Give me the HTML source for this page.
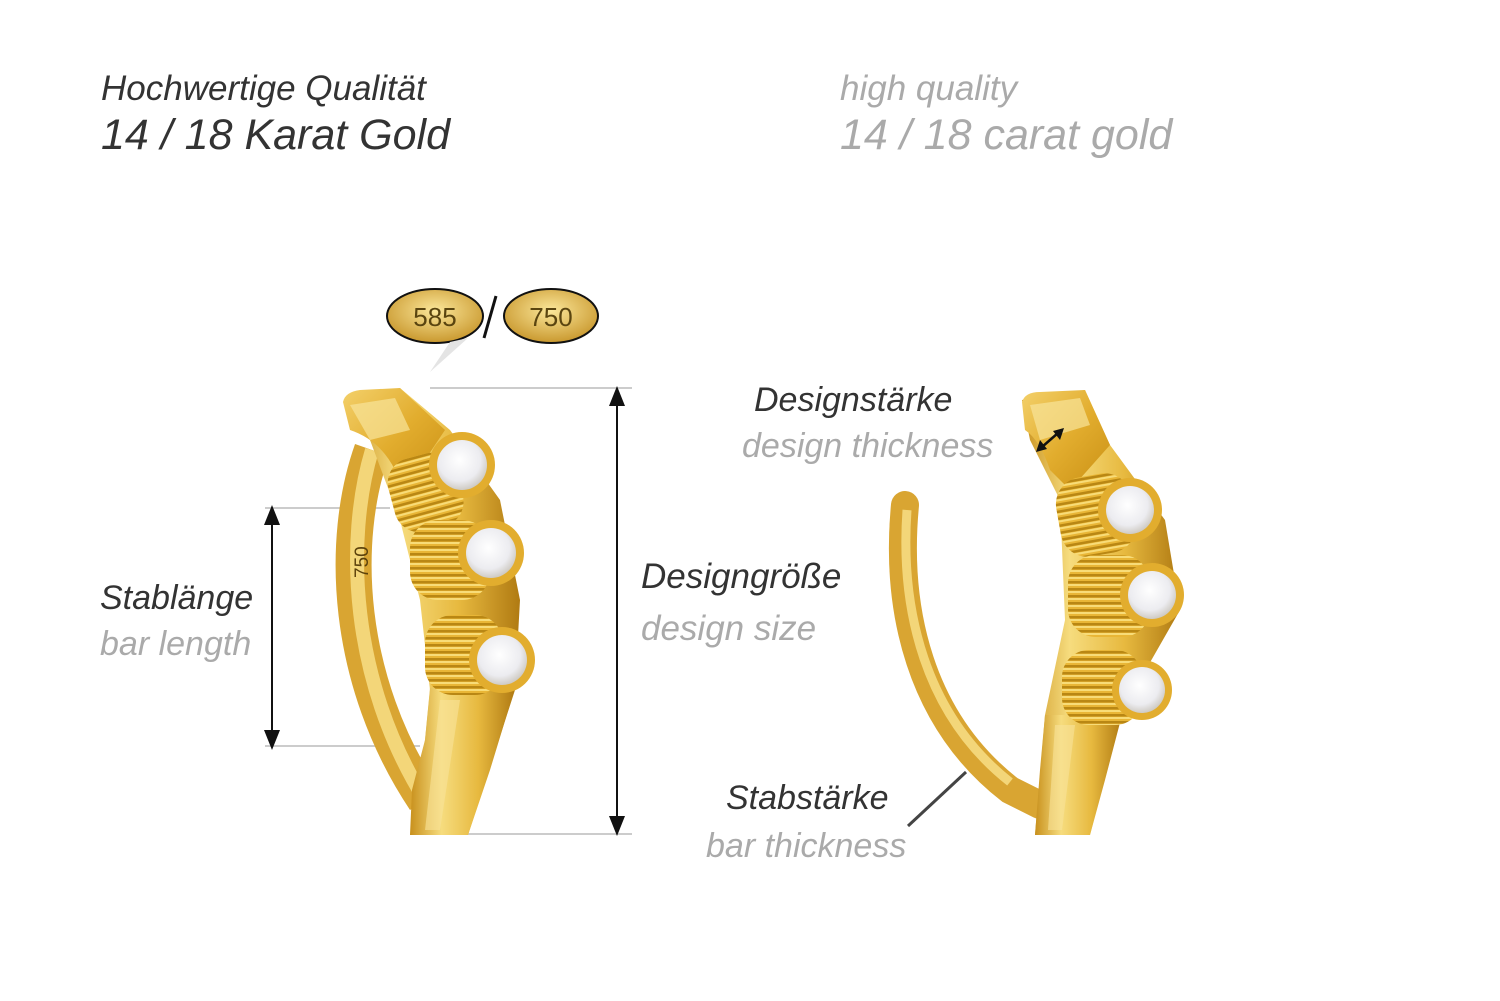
<!DOCTYPE html>
<html><head><meta charset="utf-8"><style>
html,body{margin:0;padding:0;background:#fff;}
body{width:1500px;height:1001px;position:relative;overflow:hidden;font-family:"Liberation Sans",sans-serif;font-style:italic;}
.t{position:absolute;white-space:nowrap;}
.d{color:#333;}
.g{color:#aaa;}
</style></head><body>
<div class="t d" style="left:101px;top:69px;font-size:35px;">Hochwertige Qualität</div>
<div class="t d" style="left:101px;top:111px;font-size:43px;">14 / 18 Karat Gold</div>
<div class="t g" style="left:840px;top:69px;font-size:35px;">high quality</div>
<div class="t g" style="left:840px;top:111px;font-size:43px;">14 / 18 carat gold</div>

<div class="t d" style="left:100px;top:579px;font-size:34px;">Stablänge</div>
<div class="t g" style="left:100px;top:625px;font-size:34px;">bar length</div>
<div class="t d" style="left:641px;top:557px;font-size:35px;">Designgröße</div>
<div class="t g" style="left:641px;top:609px;font-size:35px;">design size</div>
<div class="t d" style="left:754px;top:381px;font-size:34px;">Designstärke</div>
<div class="t g" style="left:742px;top:427px;font-size:34px;">design thickness</div>
<div class="t d" style="left:726px;top:779px;font-size:34px;">Stabstärke</div>
<div class="t g" style="left:706px;top:827px;font-size:34px;">bar thickness</div>

<svg width="1500" height="1001" style="position:absolute;left:0;top:0" xmlns="http://www.w3.org/2000/svg">
<defs>
<linearGradient id="gold" x1="0" y1="0" x2="1" y2="0">
<stop offset="0" stop-color="#c8901c"/><stop offset="0.3" stop-color="#f6dc7e"/><stop offset="0.65" stop-color="#e7b93f"/><stop offset="1" stop-color="#b07a12"/></linearGradient>
<linearGradient id="gold2" x1="0" y1="0" x2="1" y2="1">
<stop offset="0" stop-color="#f3d06a"/><stop offset="0.5" stop-color="#e2ad2e"/><stop offset="1" stop-color="#c98f14"/></linearGradient>
<radialGradient id="ov" cx="0.5" cy="0.4" r="0.6"><stop offset="0" stop-color="#fbe79a"/><stop offset="1" stop-color="#c9982e"/></radialGradient>
<radialGradient id="st" cx="0.45" cy="0.4" r="0.6"><stop offset="0" stop-color="#ffffff"/><stop offset="0.7" stop-color="#ececf0"/><stop offset="1" stop-color="#cfcbc4"/></radialGradient>
<pattern id="flute" width="7" height="7" patternUnits="userSpaceOnUse"><rect width="7" height="7" fill="#e9b636"/><rect y="0" width="7" height="2.5" fill="#b98714"/><rect y="3" width="7" height="2" fill="#f8dc78"/></pattern>
<marker id="ar" markerWidth="10" markerHeight="10" refX="5" refY="5" orient="auto-start-reverse"><path d="M0,1 L10,5 L0,9 Z" fill="#111"/></marker>
</defs>
<ellipse cx="435" cy="316" rx="48" ry="27" fill="url(#ov)" stroke="#111" stroke-width="2"/>
<text x="435" y="326" font-size="26" text-anchor="middle" fill="#5a4510" font-family="Liberation Sans" font-style="normal">585</text>
<ellipse cx="551" cy="316" rx="47" ry="27" fill="url(#ov)" stroke="#111" stroke-width="2"/>
<text x="551" y="326" font-size="26" text-anchor="middle" fill="#5a4510" font-family="Liberation Sans" font-style="normal">750</text>
<line x1="496" y1="296" x2="484" y2="338" stroke="#111" stroke-width="3"/>
<path d="M450,342 L430,372 L468,338 Z" fill="#e4e4e4"/>
<line x1="430" y1="388" x2="632" y2="388" stroke="#ccc" stroke-width="2"/>
<line x1="430" y1="834" x2="632" y2="834" stroke="#ccc" stroke-width="2"/>
<line x1="617" y1="396" x2="617" y2="826" stroke="#111" stroke-width="2" marker-start="url(#ar)" marker-end="url(#ar)"/>
<line x1="265" y1="508" x2="390" y2="508" stroke="#ccc" stroke-width="2"/>
<line x1="265" y1="746" x2="420" y2="746" stroke="#ccc" stroke-width="2"/>
<line x1="272" y1="515" x2="272" y2="740" stroke="#111" stroke-width="2" marker-start="url(#ar)" marker-end="url(#ar)"/>

<path d="M372,450 C340,540 345,680 425,800" fill="none" stroke="#d9a532" stroke-width="36"/>
<path d="M372,450 C345,540 350,680 425,800" fill="none" stroke="#f3d679" stroke-width="14"/>
<text x="0" y="0" font-size="19" fill="#5c420c" font-style="normal" font-family="Liberation Sans" transform="translate(368,578) rotate(-90)">750</text>
<path d="M345,400 L400,388 L450,430 L500,500 L520,600 L515,690 L468,835 L410,835 L425,740 L430,690 L420,600 L400,520 L370,440 Z" fill="url(#gold)"/>
<path d="M343,402 Q345,392 360,390 L400,388 L445,430 L405,490 L395,470 Q380,440 350,430 Z" fill="url(#gold2)"/>
<path d="M350,405 L395,398 L410,430 L370,440 Z" fill="#f8e49a" opacity="0.7"/>
<path d="M430,688 L515,688 L490,770 L468,835 L410,835 L412,790 L425,740 Z" fill="url(#gold)"/>
<path d="M440,700 L460,700 L440,830 L425,830 Z" fill="#f9e39a" opacity="0.6"/>
<rect x="390" y="455" width="70" height="75" rx="25" fill="url(#flute)" transform="rotate(-15 425 490)"/>
<rect x="410" y="520" width="80" height="80" rx="28" fill="url(#flute)"/>
<rect x="425" y="615" width="78" height="80" rx="28" fill="url(#flute)"/>
<circle cx="462" cy="465" r="33" fill="#e2ad2e"/><circle cx="462" cy="465" r="25" fill="url(#st)"/>
<circle cx="491" cy="553" r="33" fill="#e2ad2e"/><circle cx="491" cy="553" r="25" fill="url(#st)"/>
<circle cx="502" cy="660" r="33" fill="#e2ad2e"/><circle cx="502" cy="660" r="25" fill="url(#st)"/>

<path d="M905,505 C895,610 920,720 1010,790 L1040,805" fill="none" stroke="#d9a532" stroke-width="28" stroke-linecap="round"/>
<path d="M907,510 C900,610 925,715 1010,782" fill="none" stroke="#f3d679" stroke-width="9"/>
<path d="M1022,400 L1085,390 L1110,445 L1165,520 L1180,610 L1120,715 L1090,835 L1035,835 L1045,715 L1065,620 L1060,500 L1030,440 Z" fill="url(#gold)"/>
<path d="M1022,402 Q1025,392 1040,392 L1085,390 L1110,445 L1070,490 L1050,470 Q1040,440 1025,430 Z" fill="url(#gold2)"/>
<path d="M1030,405 L1080,398 L1090,425 L1040,440 Z" fill="#f8e49a" opacity="0.7"/>
<path d="M1045,715 L1122,715 L1105,780 L1090,835 L1035,835 L1040,770 Z" fill="url(#gold)"/>
<path d="M1055,725 L1075,725 L1062,830 L1048,830 Z" fill="#f9e39a" opacity="0.6"/>
<rect x="1058" y="475" width="76" height="80" rx="27" fill="url(#flute)" transform="rotate(-10 1096 515)"/>
<rect x="1068" y="555" width="82" height="82" rx="28" fill="url(#flute)"/>
<rect x="1062" y="650" width="80" height="75" rx="27" fill="url(#flute)"/>
<circle cx="1130" cy="510" r="32" fill="#e2ad2e"/><circle cx="1130" cy="510" r="24" fill="url(#st)"/>
<circle cx="1152" cy="595" r="32" fill="#e2ad2e"/><circle cx="1152" cy="595" r="24" fill="url(#st)"/>
<circle cx="1142" cy="690" r="30" fill="#e2ad2e"/><circle cx="1142" cy="690" r="23" fill="url(#st)"/>
<line x1="1042" y1="447" x2="1058" y2="433" stroke="#111" stroke-width="2.5"/>
<path d="M1036,452 L1040,440 L1047,449 Z" fill="#111"/>
<path d="M1064,428 L1053,431 L1060,440 Z" fill="#111"/>
<line x1="908" y1="826" x2="966" y2="772" stroke="#444" stroke-width="3"/>
</svg>
</body></html>
